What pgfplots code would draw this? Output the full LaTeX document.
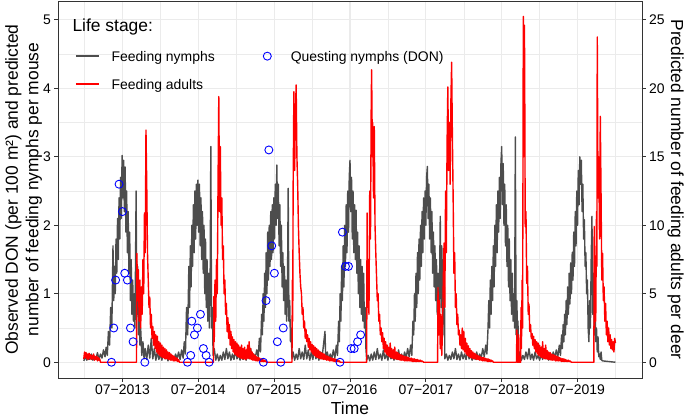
\documentclass[border=0pt]{standalone}
\usepackage{pgfplots}
\pgfplotsset{compat=1.18}
\usepackage{fontspec}
\setmainfont{Liberation Sans}
\definecolor{nymph}{HTML}{4D4D4D}
\definecolor{gridc}{HTML}{EBEBEB}
\definecolor{frame}{HTML}{333333}
\newcommand{\ttlfont}{\fontsize{17.5}{20.5}\selectfont}
\newcommand{\txtfont}{\fontsize{14}{16}\selectfont}
\begin{document}
\begin{tikzpicture}
\begin{axis}[
  at={(0,0)}, anchor=south west,
  scale only axis, width=584bp, height=377bp,
  xmin=2012.65, xmax=2020.35, ymin=-0.23, ymax=5.275,
  axis line style={frame, line width=0.8bp},
  xtick={2013.5,2014.5,2015.5,2016.5,2017.5,2018.5,2019.5},
  xticklabels={07−2013,07−2014,07−2015,07−2016,07−2017,07−2018,07−2019},
  minor xtick={2013,2014,2015,2016,2017,2018,2019,2020},
  ytick={0,1,2,3,4,5}, minor ytick={0.5,1.5,2.5,3.5,4.5},
  xtick pos=left, ytick pos=left,
  grid=both,
  major grid style={gridc, line width=1.07bp},
  minor grid style={gridc, line width=0.53bp},
  tick align=outside, major tick length=3.7bp, minor tick length=0pt,
  tick style={frame, line width=0.8bp},
  /pgf/number format/assume math mode=true,
  tick label style={font=\txtfont, text=black},
  label style={font=\ttlfont},
  xlabel={Time},
  ylabel={Observed DON (per 100 m²) and predicted\\number of feeding nymphs per mouse},
  ylabel style={align=center, at={(axis description cs:-0.059,0.5)}, anchor=center},
  legend columns=2,
  legend cell align=left,
  legend style={at={(axis description cs:0.0291,0.8655)}, anchor=north west,
    draw=none, fill=none, inner sep=0pt, outer sep=0pt,
    /tikz/every even column/.append style={column sep=41bp},
    /tikz/every odd column/.append style={column sep=12bp},
    row sep=14.8bp,
    nodes={inner sep=0pt, text height=10bp, text depth=3bp, font=\txtfont}},
]
\addlegendimage{legend image code/.code={\draw[nymph, line width=1.7bp] (0bp,2.2bp) -- (23bp,2.2bp);}}
\addlegendentry{Feeding nymphs}
\addlegendimage{legend image code/.code={\path[draw=none] (0bp,2.2bp) -- (23bp,2.2bp); \draw[blue, line width=0.9bp] (11.5bp,2.2bp) circle (4bp);}}
\addlegendentry{Questing nymphs (DON)}
\addlegendimage{legend image code/.code={\draw[red, line width=1.7bp] (0bp,2.2bp) -- (23bp,2.2bp);}}
\addlegendentry{Feeding adults}

% Feeding nymphs (per mouse)
\addplot[forget plot, nymph, line width=1.4bp, line join=round] coordinates {
(2012.99,0.02)(2013.01,0.08)(2013.03,0.03)(2013.05,0.10)(2013.07,0.04)(2013.09,0.12)(2013.11,0.03)(2013.13,0.09)(2013.15,0.05)(2013.17,0.14)(2013.19,0.04)(2013.21,0.12)(2013.23,0.06)(2013.25,0.18)(2013.27,0.08)(2013.285,0.22)(2013.30,0.10)(2013.315,0.45)(2013.33,0.25)(2013.345,0.80)(2013.36,0.50)(2013.375,1.70)(2013.385,0.90)(2013.395,1.40)(2013.405,1.00)(2013.415,1.80)(2013.425,1.30)(2013.435,2.10)(2013.445,1.50)(2013.455,2.40)(2013.465,1.80)(2013.475,2.70)(2013.485,2.10)(2013.495,3.02)(2013.505,2.40)(2013.515,2.95)(2013.525,2.20)(2013.535,2.85)(2013.545,1.90)(2013.555,2.50)(2013.565,1.60)(2013.575,2.20)(2013.585,1.30)(2013.595,1.90)(2013.605,0.90)(2013.615,1.50)(2013.625,0.70)(2013.635,1.20)(2013.645,0.60)(2013.655,1.00)(2013.665,0.50)(2013.68,2.50)(2013.69,0.70)(2013.70,1.40)(2013.71,0.40)(2013.72,0.90)(2013.73,0.25)(2013.74,0.50)(2013.755,0.10)(2013.77,0.30)(2013.785,0.05)(2013.80,0.20)(2013.82,0.04)(2013.84,0.25)(2013.86,0.06)(2013.88,0.35)(2013.90,0.05)(2013.92,0.20)(2013.94,0.03)(2013.96,0.15)(2013.98,0.04)
(2014.00,0.12)(2014.02,0.03)(2014.04,0.15)(2014.06,0.05)(2014.08,0.10)(2014.10,0.02)(2014.12,0.12)(2014.14,0.04)(2014.16,0.09)(2014.18,0.03)(2014.20,0.12)(2014.22,0.05)(2014.24,0.15)(2014.26,0.04)(2014.28,0.18)(2014.30,0.06)(2014.315,0.30)(2014.33,0.12)(2014.345,0.80)(2014.36,0.40)(2014.375,1.40)(2014.385,0.80)(2014.395,1.70)(2014.405,1.10)(2014.415,2.00)(2014.425,1.40)(2014.435,2.30)(2014.445,1.60)(2014.455,2.50)(2014.465,1.80)(2014.475,2.60)(2014.485,2.00)(2014.495,2.66)(2014.505,1.90)(2014.515,2.60)(2014.525,1.70)(2014.535,2.40)(2014.545,1.50)(2014.555,2.20)(2014.565,1.30)(2014.575,2.00)(2014.585,1.00)(2014.595,1.80)(2014.605,0.80)(2014.615,1.50)(2014.625,0.60)(2014.635,1.30)(2014.645,0.50)(2014.655,1.00)(2014.665,3.15)(2014.675,0.50)(2014.685,0.80)(2014.695,0.10)(2014.71,0.20)(2014.73,0.03)(2014.75,0.12)(2014.77,0.02)(2014.79,0.10)(2014.81,0.03)(2014.83,0.15)(2014.85,0.04)(2014.87,0.20)(2014.89,0.05)(2014.91,0.15)(2014.93,0.03)(2014.95,0.12)(2014.97,0.04)(2014.99,0.18)
(2015.01,0.05)(2015.03,0.12)(2015.05,0.03)(2015.07,0.10)(2015.09,0.04)(2015.11,0.15)(2015.13,0.03)(2015.15,0.12)(2015.17,0.05)(2015.19,0.20)(2015.21,0.04)(2015.23,0.12)(2015.25,0.06)(2015.27,0.18)(2015.29,0.08)(2015.305,0.35)(2015.32,0.15)(2015.335,0.70)(2015.345,0.40)(2015.355,1.00)(2015.365,0.60)(2015.375,1.30)(2015.385,0.80)(2015.395,1.60)(2015.405,1.00)(2015.415,1.90)(2015.425,1.20)(2015.435,2.00)(2015.445,1.40)(2015.455,2.20)(2015.465,1.50)(2015.475,2.30)(2015.485,1.60)(2015.495,2.40)(2015.505,1.80)(2015.515,2.60)(2015.525,2.00)(2015.535,2.88)(2015.545,2.10)(2015.555,2.60)(2015.565,1.70)(2015.575,2.30)(2015.585,1.40)(2015.595,2.00)(2015.605,1.10)(2015.615,1.60)(2015.625,0.90)(2015.635,1.40)(2015.645,0.70)(2015.655,1.20)(2015.665,0.60)(2015.675,1.00)(2015.685,2.54)(2015.695,0.60)(2015.705,0.90)(2015.715,0.30)(2015.725,0.50)(2015.735,0.05)(2015.75,0.15)(2015.77,0.03)(2015.79,0.12)(2015.81,0.04)(2015.83,0.20)(2015.85,0.05)(2015.87,0.15)(2015.89,0.04)(2015.91,0.25)(2015.93,0.05)(2015.95,0.18)(2015.97,0.03)(2015.99,0.15)
(2016.01,0.04)(2016.03,0.20)(2016.05,0.05)(2016.07,0.12)(2016.09,0.03)(2016.11,0.15)(2016.13,0.05)(2016.15,0.25)(2016.17,0.45)(2016.18,0.05)(2016.20,0.15)(2016.22,0.04)(2016.24,0.12)(2016.26,0.05)(2016.28,0.18)(2016.30,0.06)(2016.32,0.25)(2016.335,0.10)(2016.35,0.60)(2016.36,0.30)(2016.37,1.00)(2016.38,0.60)(2016.39,1.40)(2016.40,0.90)(2016.41,1.70)(2016.42,1.10)(2016.43,2.00)(2016.44,1.40)(2016.45,2.30)(2016.46,1.60)(2016.47,2.50)(2016.48,1.90)(2016.49,2.70)(2016.50,2.95)(2016.51,2.20)(2016.52,2.70)(2016.53,1.80)(2016.54,2.50)(2016.55,1.60)(2016.56,2.30)(2016.57,1.50)(2016.58,2.22)(2016.59,1.30)(2016.60,1.90)(2016.61,1.00)(2016.62,1.70)(2016.63,0.80)(2016.64,1.50)(2016.65,0.70)(2016.66,1.40)(2016.67,0.60)(2016.68,1.30)(2016.69,0.50)(2016.70,0.80)(2016.71,0.20)(2016.72,0.03)(2016.74,0.10)(2016.76,0.02)(2016.78,0.12)(2016.80,0.03)(2016.82,0.15)(2016.84,0.04)(2016.86,0.20)(2016.88,0.05)(2016.90,0.12)(2016.92,0.03)(2016.94,0.18)(2016.96,0.05)(2016.98,0.12)
(2017.00,0.03)(2017.02,0.15)(2017.04,0.05)(2017.06,0.10)(2017.08,0.03)(2017.10,0.12)(2017.12,0.04)(2017.14,0.18)(2017.16,0.05)(2017.18,0.12)(2017.20,0.04)(2017.22,0.15)(2017.24,0.06)(2017.26,0.20)(2017.28,0.08)(2017.30,0.25)(2017.315,0.10)(2017.33,0.60)(2017.34,0.40)(2017.35,1.00)(2017.36,0.60)(2017.37,1.30)(2017.38,0.80)(2017.39,1.60)(2017.40,1.00)(2017.41,1.80)(2017.42,1.20)(2017.43,2.00)(2017.44,1.40)(2017.45,2.20)(2017.46,1.60)(2017.47,2.40)(2017.48,1.80)(2017.49,2.50)(2017.50,2.00)(2017.51,2.70)(2017.52,2.86)(2017.53,2.10)(2017.54,2.60)(2017.55,1.80)(2017.56,2.40)(2017.57,1.60)(2017.58,2.20)(2017.59,1.30)(2017.60,1.90)(2017.61,1.10)(2017.62,1.70)(2017.63,0.90)(2017.64,1.50)(2017.65,0.70)(2017.66,1.30)(2017.67,0.60)(2017.68,1.10)(2017.69,2.13)(2017.70,0.80)(2017.71,1.70)(2017.72,0.60)(2017.73,1.50)(2017.74,0.40)(2017.745,1.10)(2017.75,0.05)(2017.77,0.12)(2017.79,0.03)(2017.81,0.10)(2017.83,0.04)(2017.85,0.15)(2017.87,0.05)(2017.89,0.20)(2017.91,0.04)(2017.93,0.12)(2017.95,0.03)(2017.97,0.15)(2017.99,0.05)
(2018.01,0.12)(2018.03,0.04)(2018.05,0.18)(2018.07,0.05)(2018.09,0.10)(2018.11,0.03)(2018.13,0.12)(2018.15,0.04)(2018.17,0.15)(2018.19,0.05)(2018.21,0.12)(2018.23,0.06)(2018.25,0.20)(2018.27,0.08)(2018.29,0.25)(2018.305,0.12)(2018.32,0.50)(2018.33,0.90)(2018.34,0.50)(2018.35,1.20)(2018.36,0.70)(2018.37,1.40)(2018.38,0.90)(2018.39,1.70)(2018.40,1.10)(2018.41,2.00)(2018.42,1.40)(2018.43,2.30)(2018.44,1.60)(2018.45,2.50)(2018.46,1.90)(2018.47,2.70)(2018.48,2.10)(2018.49,2.90)(2018.50,3.15)(2018.51,2.30)(2018.52,2.90)(2018.53,2.00)(2018.54,2.60)(2018.55,1.70)(2018.56,2.30)(2018.57,1.40)(2018.58,2.00)(2018.59,1.10)(2018.60,1.80)(2018.61,0.90)(2018.62,1.50)(2018.63,0.70)(2018.64,1.30)(2018.65,0.60)(2018.66,1.00)(2018.67,0.50)(2018.68,3.29)(2018.69,0.40)(2018.70,0.90)(2018.71,0.30)(2018.715,0.60)(2018.72,0.05)(2018.74,0.15)(2018.76,0.03)(2018.78,0.10)(2018.80,0.04)(2018.82,0.15)(2018.84,0.05)(2018.86,0.20)(2018.88,0.04)(2018.90,0.12)(2018.92,0.03)(2018.94,0.15)(2018.96,0.05)(2018.98,0.10)
(2019.00,0.03)(2019.02,0.12)(2019.04,0.04)(2019.06,0.15)(2019.08,0.05)(2019.10,0.10)(2019.12,0.03)(2019.14,0.12)(2019.16,0.05)(2019.18,0.15)(2019.20,0.06)(2019.22,0.18)(2019.24,0.08)(2019.26,0.25)(2019.275,0.10)(2019.29,0.40)(2019.30,0.20)(2019.31,0.55)(2019.32,0.30)(2019.33,0.70)(2019.34,0.40)(2019.35,0.90)(2019.36,0.55)(2019.37,1.10)(2019.38,0.70)(2019.39,1.30)(2019.40,0.85)(2019.41,1.45)(2019.42,1.00)(2019.43,1.60)(2019.44,1.20)(2019.45,1.90)(2019.46,1.40)(2019.47,2.20)(2019.48,1.70)(2019.49,2.50)(2019.50,2.00)(2019.51,2.80)(2019.52,2.30)(2019.53,3.00)(2019.54,2.60)(2019.55,2.95)(2019.56,2.20)(2019.57,2.60)(2019.58,1.80)(2019.59,2.08)(2019.60,1.40)(2019.61,1.60)(2019.62,1.00)(2019.63,1.20)(2019.64,0.50)(2019.65,0.30)(2019.66,0.90)(2019.67,0.50)(2019.68,1.50)(2019.69,2.13)(2019.70,0.70)(2019.71,1.30)(2019.72,0.40)(2019.73,0.80)(2019.74,0.30)(2019.75,0.50)(2019.76,0.15)(2019.77,0.37)(2019.78,0.08)(2019.79,0.12)(2019.80,0.04)(2019.81,0.15)(2019.82,0.03)(2019.83,0.02)(2020.00,0.00)
};

% Feeding adults (per deer, scaled 1:5 on left axis)
\addplot[forget plot, red, line width=1.4bp, line join=round] coordinates {
(2012.99,0.05)(2013.00,0.15)(2013.01,0.07)(2013.02,0.14)(2013.03,0.05)(2013.04,0.12)(2013.05,0.04)(2013.06,0.13)(2013.07,0.06)(2013.08,0.11)(2013.09,0.04)(2013.10,0.10)(2013.11,0.05)(2013.12,0.12)(2013.13,0.03)(2013.14,0.08)(2013.15,0.04)(2013.16,0.09)(2013.17,0.02)(2013.18,0.07)(2013.19,0.03)(2013.20,0.05)(2013.21,0.00)(2013.685,0.00)
(2013.69,1.59)(2013.70,0.90)(2013.71,1.35)(2013.72,0.60)(2013.73,1.20)(2013.74,0.50)(2013.75,1.10)(2013.76,0.70)(2013.77,1.50)(2013.78,1.00)(2013.79,2.18)(2013.80,1.60)(2013.81,3.39)(2013.82,2.60)(2013.83,1.60)(2013.84,1.20)(2013.85,0.80)(2013.86,0.95)(2013.87,0.50)(2013.88,0.70)(2013.89,0.35)(2013.90,0.52)(2013.91,0.25)(2013.92,0.45)(2013.93,0.20)(2013.94,0.40)(2013.95,0.15)(2013.96,0.38)(2013.97,0.12)(2013.98,0.30)(2013.99,0.10)(2014.00,0.28)(2014.01,0.08)(2014.02,0.25)(2014.03,0.07)(2014.04,0.22)(2014.05,0.06)(2014.06,0.20)(2014.07,0.05)(2014.08,0.18)(2014.09,0.05)(2014.10,0.15)(2014.11,0.04)(2014.12,0.14)(2014.13,0.03)(2014.14,0.12)(2014.15,0.03)(2014.16,0.10)(2014.17,0.02)(2014.18,0.09)(2014.19,0.02)(2014.20,0.07)(2014.21,0.02)(2014.22,0.06)(2014.23,0.01)(2014.24,0.04)(2014.25,0.00)(2014.70,0.00)
(2014.705,0.96)(2014.71,0.30)(2014.72,1.20)(2014.73,0.60)(2014.74,1.50)(2014.75,1.00)(2014.76,2.60)(2014.77,3.88)(2014.78,2.20)(2014.79,3.15)(2014.80,2.00)(2014.81,2.40)(2014.82,1.50)(2014.83,1.70)(2014.84,1.00)(2014.85,1.20)(2014.86,0.70)(2014.87,0.86)(2014.88,0.45)(2014.89,0.65)(2014.90,0.35)(2014.91,0.55)(2014.92,0.25)(2014.93,0.45)(2014.94,0.20)(2014.95,0.37)(2014.96,0.15)(2014.97,0.33)(2014.98,0.12)(2014.99,0.30)(2015.00,0.10)(2015.01,0.28)(2015.02,0.08)(2015.03,0.25)(2015.04,0.07)(2015.05,0.22)(2015.06,0.06)(2015.07,0.25)(2015.08,0.05)(2015.09,0.20)(2015.10,0.05)(2015.11,0.22)(2015.12,0.04)(2015.13,0.18)(2015.14,0.05)(2015.15,0.25)(2015.16,0.06)(2015.17,0.30)(2015.18,0.05)(2015.19,0.20)(2015.20,0.04)(2015.21,0.15)(2015.22,0.03)(2015.23,0.12)(2015.24,0.03)(2015.25,0.10)(2015.26,0.02)(2015.27,0.08)(2015.28,0.02)(2015.29,0.07)(2015.30,0.02)(2015.31,0.06)(2015.32,0.01)(2015.33,0.05)(2015.34,0.01)(2015.35,0.04)(2015.36,0.01)(2015.37,0.03)(2015.38,0.01)(2015.39,0.02)(2015.40,0.00)(2015.735,0.00)
(2015.74,1.20)(2015.745,0.60)(2015.75,2.50)(2015.76,3.95)(2015.77,2.80)(2015.78,3.60)(2015.79,4.05)(2015.80,3.00)(2015.81,2.60)(2015.82,1.98)(2015.83,1.60)(2015.84,1.30)(2015.85,1.10)(2015.86,1.00)(2015.87,0.70)(2015.88,0.80)(2015.89,0.50)(2015.90,0.60)(2015.91,0.35)(2015.92,0.48)(2015.93,0.30)(2015.94,0.40)(2015.95,0.22)(2015.96,0.35)(2015.97,0.18)(2015.98,0.30)(2015.99,0.15)(2016.00,0.26)(2016.01,0.12)(2016.02,0.24)(2016.03,0.10)(2016.04,0.22)(2016.05,0.08)(2016.06,0.20)(2016.07,0.07)(2016.08,0.18)(2016.09,0.06)(2016.10,0.16)(2016.11,0.05)(2016.12,0.14)(2016.13,0.05)(2016.14,0.13)(2016.15,0.04)(2016.16,0.12)(2016.17,0.04)(2016.18,0.10)(2016.19,0.03)(2016.20,0.09)(2016.21,0.03)(2016.22,0.08)(2016.23,0.02)(2016.24,0.07)(2016.25,0.02)(2016.26,0.06)(2016.27,0.02)(2016.28,0.05)(2016.29,0.01)(2016.30,0.05)(2016.31,0.01)(2016.32,0.04)(2016.33,0.01)(2016.34,0.03)(2016.35,0.01)(2016.36,0.02)(2016.37,0.00)(2016.72,0.00)
(2016.725,2.18)(2016.73,0.80)(2016.74,1.50)(2016.75,0.70)(2016.76,2.50)(2016.77,1.80)(2016.78,3.80)(2016.785,4.27)(2016.795,3.00)(2016.80,3.50)(2016.81,2.40)(2016.82,3.44)(2016.83,2.00)(2016.84,1.60)(2016.85,1.25)(2016.86,0.90)(2016.87,1.00)(2016.88,0.60)(2016.89,0.70)(2016.90,0.40)(2016.91,0.50)(2016.92,0.30)(2016.93,0.43)(2016.94,0.20)(2016.95,0.35)(2016.96,0.15)(2016.97,0.30)(2016.98,0.12)(2016.99,0.25)(2017.00,0.10)(2017.01,0.22)(2017.02,0.08)(2017.03,0.28)(2017.04,0.07)(2017.05,0.20)(2017.06,0.06)(2017.07,0.18)(2017.08,0.05)(2017.09,0.22)(2017.10,0.05)(2017.11,0.15)(2017.12,0.04)(2017.13,0.14)(2017.14,0.04)(2017.15,0.12)(2017.16,0.03)(2017.17,0.11)(2017.18,0.03)(2017.19,0.10)(2017.20,0.03)(2017.21,0.09)(2017.22,0.02)(2017.23,0.08)(2017.24,0.02)(2017.25,0.08)(2017.26,0.02)(2017.27,0.07)(2017.28,0.02)(2017.29,0.06)(2017.30,0.02)(2017.31,0.06)(2017.32,0.01)(2017.33,0.05)(2017.34,0.01)(2017.35,0.05)(2017.36,0.01)(2017.37,0.04)(2017.38,0.01)(2017.39,0.04)(2017.40,0.01)(2017.41,0.03)(2017.42,0.01)(2017.43,0.03)(2017.44,0.01)(2017.45,0.02)(2017.46,0.01)(2017.47,0.00)(2017.655,0.00)
(2017.66,1.09)(2017.67,0.40)(2017.68,0.90)(2017.69,0.20)(2017.70,0.70)(2017.71,0.10)(2017.72,0.50)(2017.73,1.20)(2017.74,1.74)(2017.75,0.80)(2017.76,2.50)(2017.77,1.60)(2017.78,3.20)(2017.79,4.02)(2017.80,2.80)(2017.81,3.50)(2017.82,2.60)(2017.83,3.80)(2017.84,4.38)(2017.85,3.29)(2017.86,2.40)(2017.87,1.30)(2017.88,1.60)(2017.89,0.80)(2017.90,1.00)(2017.91,0.55)(2017.92,0.70)(2017.93,0.40)(2017.94,0.47)(2017.95,0.25)(2017.96,0.40)(2017.97,0.20)(2017.98,0.50)(2017.99,0.18)(2018.00,0.45)(2018.01,0.15)(2018.02,0.35)(2018.03,0.12)(2018.04,0.28)(2018.05,0.10)(2018.06,0.24)(2018.07,0.08)(2018.08,0.20)(2018.09,0.07)(2018.10,0.17)(2018.11,0.06)(2018.12,0.15)(2018.13,0.05)(2018.14,0.13)(2018.15,0.05)(2018.16,0.12)(2018.17,0.04)(2018.18,0.10)(2018.19,0.04)(2018.20,0.09)(2018.21,0.03)(2018.22,0.08)(2018.23,0.03)(2018.24,0.07)(2018.25,0.02)(2018.26,0.07)(2018.27,0.02)(2018.28,0.06)(2018.29,0.02)(2018.30,0.05)(2018.31,0.01)(2018.32,0.05)(2018.33,0.01)(2018.34,0.04)(2018.35,0.01)(2018.36,0.03)(2018.37,0.01)(2018.38,0.02)(2018.39,0.00)(2018.695,0.00)
(2018.70,0.47)(2018.705,0.00)(2018.72,0.00)(2018.725,0.40)(2018.73,0.00)(2018.75,0.00)(2018.755,0.80)(2018.76,0.20)(2018.77,1.20)(2018.775,0.50)(2018.78,2.50)(2018.785,5.05)(2018.79,3.00)(2018.80,4.92)(2018.805,3.68)(2018.81,1.98)(2018.82,2.20)(2018.83,1.15)(2018.84,1.40)(2018.85,0.70)(2018.86,0.85)(2018.87,0.45)(2018.88,0.55)(2018.89,0.35)(2018.90,0.42)(2018.91,0.25)(2018.92,0.38)(2018.93,0.20)(2018.94,0.33)(2018.95,0.15)(2018.96,0.30)(2018.97,0.12)(2018.98,0.28)(2018.99,0.10)(2019.00,0.25)(2019.01,0.08)(2019.02,0.22)(2019.03,0.07)(2019.04,0.30)(2019.05,0.06)(2019.06,0.20)(2019.07,0.05)(2019.08,0.25)(2019.09,0.05)(2019.10,0.17)(2019.11,0.04)(2019.12,0.15)(2019.13,0.04)(2019.14,0.14)(2019.15,0.03)(2019.16,0.12)(2019.17,0.03)(2019.18,0.11)(2019.19,0.03)(2019.20,0.10)(2019.21,0.02)(2019.22,0.09)(2019.23,0.02)(2019.24,0.08)(2019.25,0.02)(2019.26,0.07)(2019.27,0.02)(2019.28,0.06)(2019.29,0.01)(2019.30,0.05)(2019.31,0.01)(2019.32,0.05)(2019.33,0.01)(2019.34,0.04)(2019.35,0.01)(2019.36,0.03)(2019.37,0.01)(2019.38,0.03)(2019.39,0.01)(2019.40,0.02)(2019.41,0.01)(2019.42,0.00)(2019.715,0.00)
(2019.72,1.98)(2019.725,0.50)(2019.73,1.20)(2019.74,0.60)(2019.75,2.20)(2019.755,1.40)(2019.76,4.75)(2019.77,2.40)(2019.78,3.00)(2019.79,1.80)(2019.80,3.59)(2019.81,2.46)(2019.82,1.20)(2019.83,1.59)(2019.84,0.90)(2019.85,1.10)(2019.86,0.60)(2019.87,0.86)(2019.88,0.40)(2019.89,0.60)(2019.90,0.30)(2019.91,0.50)(2019.92,0.25)(2019.93,0.40)(2019.94,0.20)(2019.95,0.33)(2019.96,0.18)(2019.97,0.30)(2019.98,0.15)(2019.99,0.35)(2020.00,0.28)
};

% Questing nymphs (DON)
\addplot[forget plot, only marks, mark=o, mark size=4bp, blue, mark options={line width=0.9bp}] coordinates {
(2013.355,0)(2013.385,0.5)(2013.41,1.2)(2013.455,2.6)(2013.50,2.2)(2013.53,1.3)(2013.565,1.2)(2013.605,0.5)(2013.64,0.3)(2013.795,0)
(2014.357,0)(2014.40,0.1)(2014.414,0.6)(2014.449,0.4)(2014.488,0.5)(2014.528,0.7)(2014.567,0.2)(2014.603,0.1)(2014.642,0)
(2015.358,0)(2015.393,0.9)(2015.43,3.1)(2015.468,1.7)(2015.503,1.3)(2015.542,0.3)(2015.587,0)(2015.62,0.5)
(2016.368,0)(2016.40,1.9)(2016.44,1.4)(2016.48,1.4)(2016.515,0.2)(2016.555,0.2)(2016.60,0.3)(2016.64,0.4)
};
\node[anchor=base west, font=\ttlfont, inner sep=0pt] at (axis description cs:0.0245,0.9204) {Life stage:};
\end{axis}

\begin{axis}[
  at={(0,0)}, anchor=south west,
  scale only axis, width=584bp, height=377bp,
  xmin=2012.65, xmax=2020.35, ymin=-1.15, ymax=26.375,
  axis y line*=right, axis x line=none,
  axis line style={frame, line width=0.8bp},
  ytick={0,5,10,15,20,25},
  tick align=outside, major tick length=3.7bp,
  tick style={frame, line width=0.8bp},
  /pgf/number format/assume math mode=true,
  tick label style={font=\txtfont, text=black},
  label style={font=\ttlfont},
  ylabel={Predicted number of feeding adults per deer},
  ylabel style={at={(axis description cs:1.0574,0.5)}, anchor=center, rotate=180},
]
\addplot[draw=none] coordinates {(2013,0)};
\end{axis}
\pgfresetboundingbox
\path[use as bounding box] (-58bp,-41bp) rectangle (627bp,378bp);
\end{tikzpicture}
\end{document}
